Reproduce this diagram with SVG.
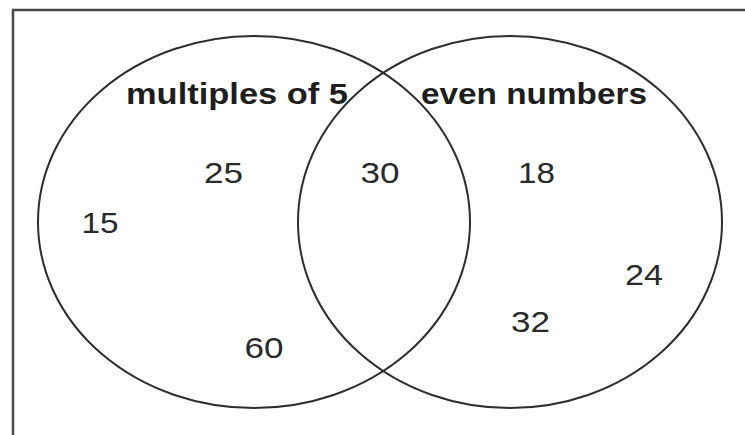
<svg xmlns="http://www.w3.org/2000/svg" width="745" height="435" viewBox="0 0 745 435">
<style>
.frame{fill:none;stroke:#4a4a4a;stroke-width:2.5}
.set{fill:none;stroke:#2e2e2e;stroke-width:2}
.lbl{font-family:"Liberation Sans",Arial,sans-serif;font-weight:bold;font-size:29px;fill:#1e1e1e;text-anchor:middle}
.num{font-family:"Liberation Sans",Arial,sans-serif;font-size:30px;fill:#2a2a2a;text-anchor:middle}
</style>
<rect width="745" height="435" fill="#ffffff"/>
<rect class="frame" x="13" y="10" width="745" height="440"/>
<g id="connectors"></g>
<g id="set-multiples-of-5">
<ellipse class="set" cx="254" cy="222" rx="216" ry="186"/>
<text class="lbl" x="237" y="104" textLength="222" lengthAdjust="spacingAndGlyphs">multiples of 5</text>
</g>
<g id="set-even-numbers">
<ellipse class="set" cx="510" cy="222" rx="212" ry="186"/>
<text class="lbl" x="534" y="104" textLength="226" lengthAdjust="spacingAndGlyphs">even numbers</text>
</g>
<g id="n25"><text class="num" x="223.5" y="183" textLength="39" lengthAdjust="spacingAndGlyphs">25</text></g>
<g id="n30"><text class="num" x="380" y="183" textLength="39" lengthAdjust="spacingAndGlyphs">30</text></g>
<g id="n18"><text class="num" x="536.5" y="183" textLength="37" lengthAdjust="spacingAndGlyphs">18</text></g>
<g id="n15"><text class="num" x="100" y="233" textLength="37" lengthAdjust="spacingAndGlyphs">15</text></g>
<g id="n24"><text class="num" x="644" y="285" textLength="38" lengthAdjust="spacingAndGlyphs">24</text></g>
<g id="n32"><text class="num" x="530.5" y="332" textLength="39" lengthAdjust="spacingAndGlyphs">32</text></g>
<g id="n60"><text class="num" x="264" y="358" textLength="39" lengthAdjust="spacingAndGlyphs">60</text></g>
</svg>
